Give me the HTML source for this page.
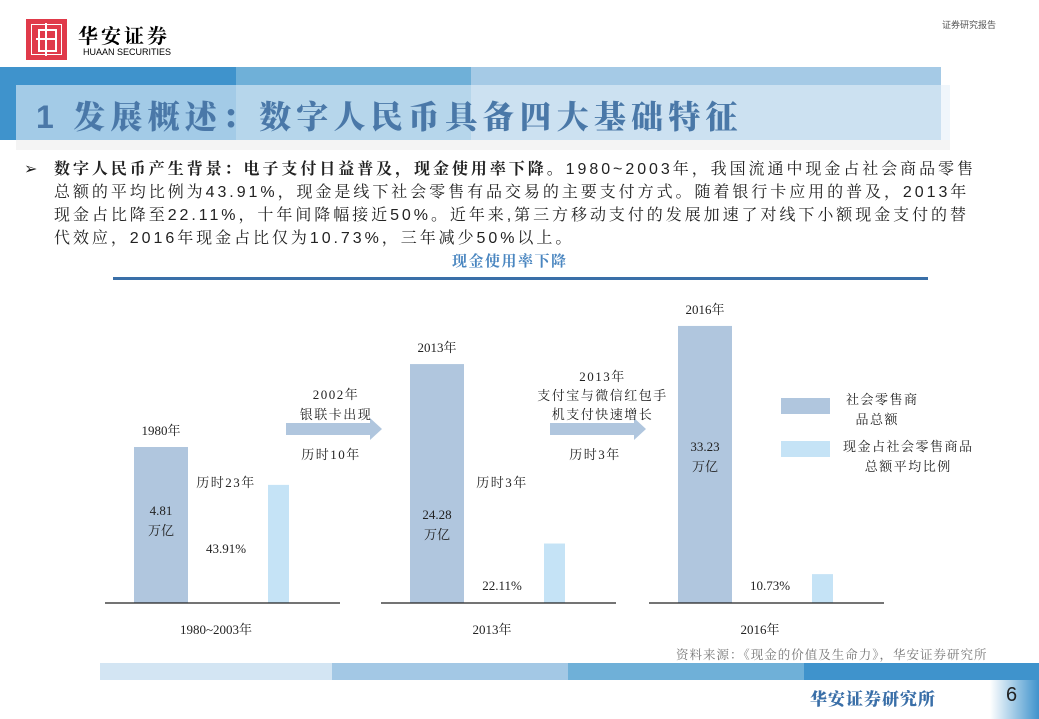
<!DOCTYPE html>
<html><head><meta charset="utf-8"><style>
body{margin:0;width:1039px;height:719px;position:relative;background:#fff;overflow:hidden;font-family:"Liberation Serif","Noto Serif CJK SC",serif;}
.a{position:absolute;}
.t{position:absolute;font-size:13px;color:#222;text-align:center;white-space:nowrap;letter-spacing:1.5px;}
.p{font-family:"Liberation Sans","Noto Serif CJK SC",serif;font-size:16px;color:#222;line-height:23px;letter-spacing:2.95px;white-space:nowrap;}
</style></head><body>
<div class="a" style="left:26px;top:19px;width:41px;height:41px;background:#e03a4a;">
<div class="a" style="left:5px;top:5px;width:29px;height:29px;border:1px solid #fff;"></div>
<div class="a" style="left:12px;top:10px;width:15px;height:19px;border:2px solid #fff;"></div>
<div class="a" style="left:19px;top:4px;width:2px;height:33px;background:#fff;"></div>
<div class="a" style="left:10px;top:19px;width:20px;height:2px;background:#fff;"></div>
</div>
<div class="a" style="left:78px;top:20px;font-size:20px;font-weight:bold;font-family:'Noto Serif CJK SC',serif;letter-spacing:3px;">华安证券</div>
<div class="a" style="left:83px;top:47px;font-size:9px;font-family:'Liberation Sans',sans-serif;">HUAAN SECURITIES</div>
<div class="a" style="left:942px;top:18px;font-size:9px;color:#555;font-family:'Noto Sans CJK SC',sans-serif;">证券研究报告</div>

<div class="a" style="left:0;top:67px;width:236px;height:73px;background:#3f93cc;"></div>
<div class="a" style="left:236px;top:67px;width:235px;height:73px;background:#6fb0d8;"></div>
<div class="a" style="left:471px;top:67px;width:470px;height:73px;background:#a5cae6;"></div>
<div class="a" style="left:16px;top:85px;width:934px;height:55px;background:rgba(230,240,248,0.6);"></div>
<div class="a" style="left:16px;top:140px;width:934px;height:10px;background:#f4f4f4;"></div>
<div class="a" style="left:36px;top:92px;font-size:32px;font-weight:900;color:#4a78a8;font-family:'Liberation Sans','Noto Serif CJK SC',serif;letter-spacing:5.2px;white-space:nowrap;">1 发展概述：数字人民币具备四大基础特征</div>

<div class="a p" style="left:24px;top:158px;width:960px;">
<span style="position:absolute;left:0;">➢</span>
<div style="margin-left:30px;"><b>数字人民币产生背景：电子支付日益普及，现金使用率下降。</b>1980~2003年，我国流通中现金占社会商品零售<br>总额的平均比例为43.91%，现金是线下社会零售有品交易的主要支付方式。随着银行卡应用的普及，2013年<br>现金占比降至22.11%，十年间降幅接近50%。近年来,第三方移动支付的发展加速了对线下小额现金支付的替<br>代效应，2016年现金占比仅为10.73%，三年减少50%以上。</div></div>

<div class="a" style="left:452px;top:250px;font-size:15px;font-weight:bold;color:#4a86c0;font-family:'Noto Serif CJK SC',serif;letter-spacing:1.5px;">现金使用率下降</div>
<div class="a" style="left:113px;top:277px;width:815px;height:3px;background:#3a6fa8;"></div>

<svg class="a" id="chart" style="left:0;top:0" width="1039" height="719"></svg>

<div class="a" style="left:781px;top:398px;width:49px;height:16px;background:#b0c6de;"></div>
<div class="t" style="left:846px;top:390px;text-align:left;line-height:20px;">社会零售商<br>&nbsp;&nbsp;品总额</div>
<div class="a" style="left:781px;top:441px;width:49px;height:16px;background:#c5e3f6;"></div>
<div class="t" style="left:843px;top:437px;text-align:center;line-height:20px;">现金占社会零售商品<br>总额平均比例</div>

<div class="t" style="left:286px;top:385px;width:100px;line-height:20px;">2002年<br>银联卡出现</div>
<div class="t" style="left:286px;top:444px;width:90px;">历时10年</div>
<div class="t" style="left:530px;top:367px;width:145px;line-height:19px;">2013年<br>支付宝与微信红包手<br>机支付快速增长</div>
<div class="t" style="left:550px;top:444px;width:90px;">历时3年</div>
<div class="t" style="left:196px;top:472px;width:60px;">历时23年</div>
<div class="t" style="left:472px;top:472px;width:60px;">历时3年</div>

<div class="a" style="left:676px;top:645px;font-size:12.5px;color:#777;font-family:'Noto Serif CJK SC',serif;letter-spacing:1px;">资料来源：《现金的价值及生命力》，华安证券研究所</div>
<div class="a" style="left:100px;top:663px;width:232px;height:17px;background:#d3e5f3;"></div>
<div class="a" style="left:332px;top:663px;width:236px;height:17px;background:#a3c8e5;"></div>
<div class="a" style="left:568px;top:663px;width:236px;height:17px;background:#6fb0d8;"></div>
<div class="a" style="left:804px;top:663px;width:235px;height:17px;background:#3f93cc;"></div>
<div class="a" style="left:990px;top:680px;width:49px;height:39px;background:linear-gradient(90deg,#fff,#3f93cc);"></div>
<div class="a" style="left:810px;top:685px;font-size:17px;font-weight:900;color:#3a6fa8;font-family:'Noto Serif CJK SC',serif;letter-spacing:1px;">华安证券研究所</div>
<div class="a" style="left:1006px;top:684px;font-size:20px;color:#222;font-family:'Liberation Sans',sans-serif;">6</div>

<script>
const categories=["1980~2003年","2013年","2016年"];
const yearLabels=["1980年","2013年","2016年"];
const retailTotals=[4.81,24.28,33.23];
const cashShares=[43.91,22.11,10.73];
const svg=document.getElementById('chart');
const NS='http://www.w3.org/2000/svg';
const baseY=603;
const groupX=[134,410,678];
const labelOffset=[88,84,152];
const yBig=v=>135.5+4.26*v;
const ySmall=v=>2.69*v;
function mk(tag,attrs,txt){const e=document.createElementNS(NS,tag);for(const k in attrs)e.setAttribute(k,attrs[k]);if(txt!=null)e.textContent=txt;svg.appendChild(e);return e;}
const FF='"Liberation Serif","Noto Serif CJK SC",serif';
[[286,382],[550,646]].forEach((a,i)=>{const y=429;
const e=mk('polygon',{points:`${a[0]},${y-6} ${a[1]-12},${y-6} ${a[1]-12},${y-11} ${a[1]},${y} ${a[1]-12},${y+11} ${a[1]-12},${y+6} ${a[0]},${y+6}`,fill:'#b0c6de'});

});
categories.forEach((c,i)=>{
const x=groupX[i];
const hb=yBig(retailTotals[i]);
const b=mk('rect',{x:x,y:baseY-hb,width:54,height:hb,fill:'#b0c6de'});


const hs=ySmall(cashShares[i]);
const sx=x+134;
const s=mk('rect',{x:sx,y:baseY-hs,width:21,height:hs,fill:'#c5e3f6'});


const l=mk('line',{x1:x-29,x2:x+206,y1:baseY,y2:baseY,stroke:'#222','stroke-width':1.2});


const yl=mk('text',{x:x+27,y:baseY-hb-12,'text-anchor':'middle','font-size':13,'font-family':FF,fill:'#222'},yearLabels[i]);


const ly=baseY-labelOffset[i];
const v1=mk('text',{x:x+27,y:ly,'text-anchor':'middle','font-size':13,'font-family':FF,fill:'#222'},retailTotals[i].toFixed(2));


const v2=mk('text',{x:x+27,y:ly+20,'text-anchor':'middle','font-size':13,'font-family':FF,fill:'#222'},'万亿');


const sv=mk('text',{x:x+92,y:i==0?553:590,'text-anchor':'middle','font-size':13,'font-family':FF,fill:'#222'},cashShares[i].toFixed(2)+'%');


const cl=mk('text',{x:x+82,y:634,'text-anchor':'middle','font-size':13,'font-family':FF,fill:'#222'},c);


});
</script>
</body></html>
